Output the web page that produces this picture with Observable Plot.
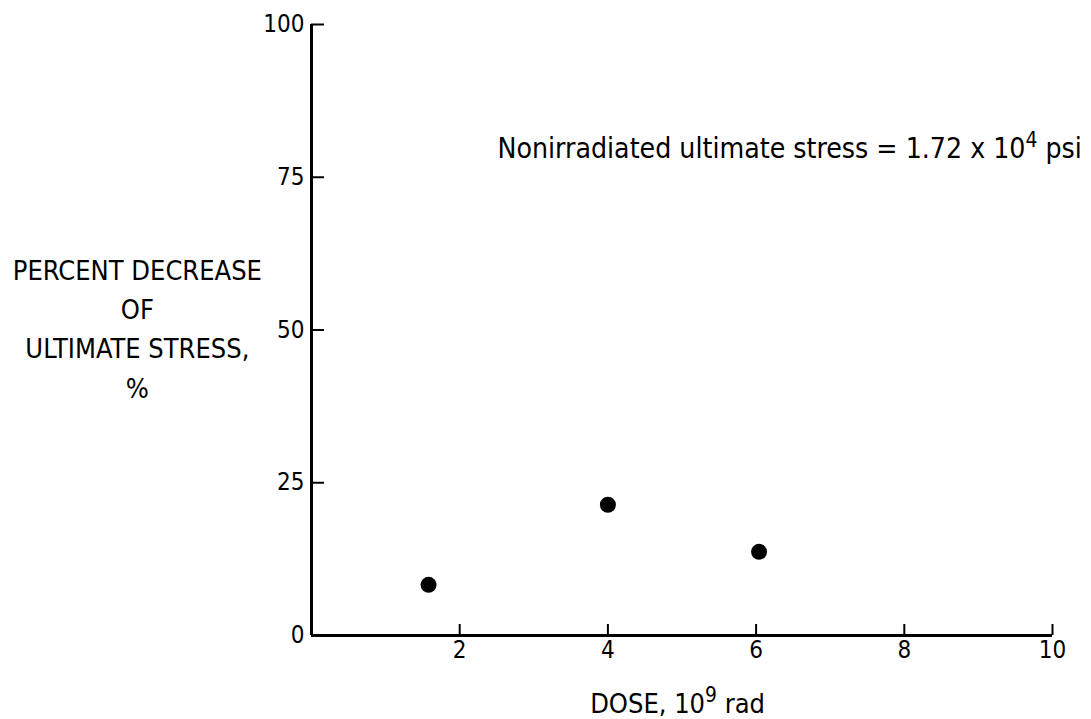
<!DOCTYPE html>
<html><head><meta charset="utf-8">
<script src="https://cdn.jsdelivr.net/npm/d3@7"></script>
<script src="https://cdn.jsdelivr.net/npm/@observablehq/plot@0.6"></script>
<style>body{margin:0;background:#fff}</style>
</head><body><div id="chart"></div>
<script>
// Data
const doses = [1.58, 4.0, 6.04];          // 10^9 rad
const decreases = [8.3, 21.4, 13.7];      // percent
const xTicks = [2, 4, 6, 8, 10];
const yTicks = [0, 25, 50, 75, 100];
const yLabelText = "PERCENT DECREASE\nOF\nULTIMATE STRESS,\n%";
const xLabelText = "DOSE, 10^9 rad";
const noteText = "Nonirradiated ultimate stress = 1.72 x 10^4 psi";
// annotation anchors (data units)
const yLabelAnchor = [{x: -2.35, y: 50.6}];
const xLabelAnchor = [{x: 4.94, y: -11.3}];
const noteAnchor = [{x: 2.51, y: 79.7}];

const points = doses.map((d, i) => ({dose: d, decrease: decreases[i]}));

const W = 1091, H = 719, ML = 311, MR = 39, MT = 24, MB = 84;
const FONT = "'Liberation Sans Narrow', 'DejaVu Sans Condensed', 'Arial Narrow', sans-serif";

const chart = Plot.plot({
  width: W, height: H,
  marginLeft: ML, marginRight: MR, marginTop: MT, marginBottom: MB,
  x: {domain: [0, 10]},
  y: {domain: [0, 100]},
  style: {fontFamily: FONT, fontSize: "24px", color: "black", background: "white", overflow: "visible"},
  marks: [
    // axis lines
    Plot.ruleY([0], {x1: 0, x2: 10, stroke: "black", strokeWidth: 3}),
    Plot.ruleX([0], {y1: 0, y2: 100, stroke: "black", strokeWidth: 3}),
    // inward tick marks
    Plot.ruleX(xTicks, {stroke: "black", strokeWidth: 2, insetTop: (H - MT - MB) - 11}),
    Plot.ruleY(yTicks, {stroke: "black", strokeWidth: 2, insetRight: (W - ML - MR) - 13}),
    // tick labels
    Plot.axisX(xTicks, {tickSize: 0, tickPadding: 5, label: null, fontSize: 24}),
    Plot.axisY(yTicks, {tickSize: 0, tickPadding: 7, label: null, fontSize: 24}),
    // data
    Plot.dot(points, {x: "dose", y: "decrease", r: 8, fill: "black", stroke: null}),
    // labels
    Plot.text(yLabelAnchor, {x: "x", y: "y", text: () => yLabelText, fontSize: 27, lineHeight: 1.45, textAnchor: "middle"}),
    Plot.text(xLabelAnchor, {x: "x", y: "y", text: () => xLabelText, fontSize: 27, textAnchor: "middle"}),
    Plot.text(noteAnchor, {x: "x", y: "y", text: () => noteText, fontSize: 28.2, textAnchor: "start"})
  ]
});

// turn "^N" into superscripts
d3.select(chart).selectAll("text, tspan").each(function () {
  if (this.children.length) return;
  const s = this.textContent;
  if (!s.includes("^")) return;
  const fs = parseFloat(getComputedStyle(this).fontSize) || 26;
  const parts = s.split(/\^(\S)/);
  this.textContent = "";
  const ns = "http://www.w3.org/2000/svg";
  let raised = false;
  parts.forEach((p, i) => {
    const t = document.createElementNS(ns, "tspan");
    t.textContent = p;
    if (i % 2 === 1) {
      t.setAttribute("font-size", (fs * 0.8) + "px");
      t.setAttribute("dy", (-fs * 0.42) + "px");
      raised = true;
    } else if (raised) {
      t.setAttribute("dy", (fs * 0.42) + "px");
      raised = false;
    }
    this.appendChild(t);
  });
});

document.getElementById("chart").appendChild(chart);
</script>
</body></html>
